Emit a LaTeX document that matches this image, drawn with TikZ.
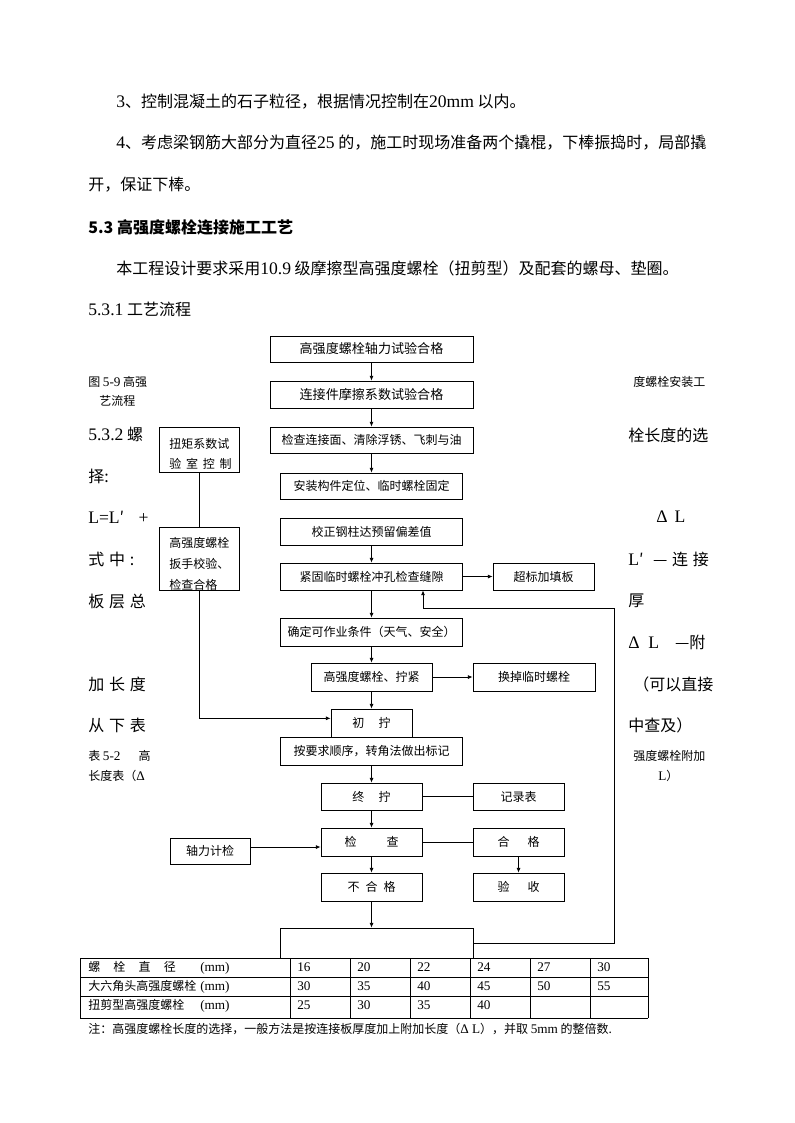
\documentclass[tikz,border=0pt]{standalone}
\usepackage{fontspec}
\setmainfont{Liberation Serif}[Scale=1.1]
\newfontfamily\cjk{Noto Sans CJK SC}
\usetikzlibrary{arrows.meta}
\newcommand\lat[1]{{\rmfamily #1}}
\newcommand\gp{\hspace{0.3em}}

\begin{document}
\begin{tikzpicture}[x=0.75pt, y=-0.75pt, >={Latex[length=3.5pt,width=3pt]},
  box/.style={draw, line width=0.6pt, inner sep=0, font=\cjk\fontsize{9}{11}\selectfont},
  wh/.style 2 args={minimum width=#1*0.75pt, minimum height=#2*0.75pt},
  body/.style={inner sep=0, anchor=west, font=\cjk\fontsize{12}{14}\selectfont},
  note/.style={inner sep=0, anchor=west, font=\cjk\fontsize{9}{11}\selectfont},
  cell/.style={inner sep=0, anchor=base west, font=\cjk\fontsize{9}{11}\selectfont},
  conn/.style={line width=0.6pt}]
\fill[white] (0,0) rectangle (794,1123);
% text above the chart
\node[body] (p3) at (116,102) {\lat{3}、控制混凝土的石子粒径，根据情况控制在\lat{20mm} 以内。};
\node[body] (p4) at (116,143) {\lat{4}、考虑梁钢筋大部分为直径\lat{25} 的，施工时现场准备两个撬棍，下棒振捣时，局部撬};
\node[body] (p4b) at (88,185) {开，保证下棒。};
\node[body, font=\cjk\bfseries\fontsize{12}{14}\selectfont] (h53) at (88,227) {5.3 高强度螺栓连接施工工艺};
\node[body] (p5) at (116,268) {本工程设计要求采用\lat{10.9} 级摩擦型高强度螺栓（扭剪型）及配套的螺母、垫圈。};
\node[body] (h531) at (88,309) {\lat{5.3.1} 工艺流程};
% text left of the chart
\node[note] (l1) at (88,382) {图 \lat{5-9} 高强};
\node[note] (l2) at (99,401) {艺流程};
\node[body] (l3) at (88,434) {\lat{5.3.2} 螺};
\node[body] (l4) at (88,476) {择:};
\node[body] (l5) at (88,517) {\lat{L=L}′\hspace{0.9em}\lat{+}};
\node[body] (l6) at (88,559) {式\gp 中\gp :};
\node[body] (l7) at (88,601) {板\gp 层\gp 总};
\node[body] (l8) at (88,684) {加\gp 长\gp 度};
\node[body] (l9) at (88,725) {从\gp 下\gp 表};
\node[note] (l10) at (88,756) {表 \lat{5-2}\hspace{1.5em}高};
\node[note] (l11) at (88,776) {长度表（\lat{Δ}};
% text right of the chart
\node[note] (r1) at (633,382) {度螺栓安装工};
\node[body] (r2) at (628,435) {栓长度的选};
\node[body] (r3) at (656,517) {\lat{Δ\hspace{0.4em}L}};
\node[body] (r4) at (628,559) {\lat{L}′\hspace{0.6em}—\gp 连\gp 接};
\node[body] (r5) at (628,601) {厚};
\node[body] (r6) at (628,642) {\lat{Δ\hspace{0.5em}L}\hspace{1em}—附};
\node[body] (r7) at (633,684) {（可以直接};
\node[body] (r8) at (628,725) {中查及）};
\node[note] (r9) at (633,756) {强度螺栓附加};
\node[note] (r10) at (658,776) {\lat{L}）};
% flow chart
\node[box, wh={203}{26}, font=\cjk\fontsize{9.8}{11}\selectfont] (a1) at (371.5,349) {高强度螺栓轴力试验合格};
\node[box, wh={203}{27}, font=\cjk\fontsize{9.8}{11}\selectfont] (a2) at (371.5,394.5) {连接件摩擦系数试验合格};
\node[box, wh={203}{26}] (a3) at (371.5,440) {检查连接面、清除浮锈、飞刺与油};
\node[box, wh={182}{26}] (a4) at (371.5,486) {安装构件定位、临时螺栓固定};
\node[box, wh={182}{27}] (a5) at (371.5,531.5) {校正钢柱达预留偏差值};
\node[box, wh={182}{27}] (a6) at (371.5,576.5) {紧固临时螺栓冲孔检查缝隙};
\node[box, wh={101}{27}] (fill) at (543.5,576.5) {超标加填板};
\node[box, wh={182}{28}] (a7) at (371.5,632) {确定可作业条件（天气、安全）};
\node[box, wh={121}{28}] (a8) at (371.5,677) {高强度螺栓、拧紧};
\node[box, wh={122}{28}] (swap) at (534,677) {换掉临时螺栓};
\node[box, wh={81}{28}] (a9) at (371.5,723) {初\hspace{1.2em}拧};
\node[box, wh={182}{28}, fill=white] (a10) at (371.5,751) {按要求顺序，转角法做出标记};
\node[box, wh={101}{27}] (a11) at (371.5,796.5) {终\hspace{1.2em}拧};
\node[box, wh={91}{27}] (rec) at (518.5,796.5) {记录表};
\node[box, wh={101}{28}] (a12) at (371.5,842) {检\hspace{2.5em}查};
\node[box, wh={91}{28}] (ok) at (518.5,842) {合\hspace{1.5em}格};
\node[box, wh={80}{26}] (axial) at (210,851) {轴力计检};
\node[box, wh={101}{28}] (a13) at (371.5,887) {不\hspace{0.5em}合\hspace{0.5em}格};
\node[box, wh={91}{28}] (accept) at (518.5,887) {验\hspace{1.5em}收};
\node[box, wh={193}{30}] (a14) at (376.5,943) {};
\node[box, wh={80}{45}] (torque) at (199,449.5) {};
\node[box, wh={80}{63}] (wrench) at (199,558.5) {};
\begin{scope}
\clip (torque.south west) rectangle (torque.north east);
\node[note, anchor=north west, align=left, font=\cjk\fontsize{9}{15}\selectfont] (torquetxt) at (169,438) {扭矩系数试\\验\hspace{0.4em}室\hspace{0.4em}控\hspace{0.4em}制};
\end{scope}
\begin{scope}
\clip (wrench.south west) rectangle (wrench.north east);
\node[note, anchor=north west, align=left, font=\cjk\fontsize{9}{15.7}\selectfont] (wrenchtxt) at (169,537) {高强度螺栓\\扳手校验、\\检查合格};
\end{scope}
% connectors
\draw[->, conn] (a1) -- (a2);
\draw[->, conn] (a2) -- (a3);
\draw[->, conn] (a3) -- (a4);
\draw[->, conn] (a5) -- (a6);
\draw[->, conn] (a6) -- (fill);
\draw[->, conn] (a6) -- (a7);
\draw[->, conn] (a7) -- (a8);
\draw[->, conn] (a8) -- (swap);
\draw[->, conn] (a8) -- (a9);
\draw[->, conn] (a10) -- (a11);
\draw[conn] (a11) -- (rec);
\draw[->, conn] (a11) -- (a12);
\draw[conn] (a12) -- (ok);
\draw[->, conn] (ok) -- (accept);
\draw[->, conn] ([yshift=3pt]axial.east) -- ([yshift=3pt]axial.east -| a12.west);
\draw[->, conn] (a12) -- (a13);
\draw[->, conn] (a13.south) -- (a13.south |- a14.north);
\draw[conn] (torque) -- (wrench);
\draw[->, conn] (wrench.south) |- ([yshift=3.5pt]a9.west);
\coordinate (fbR) at (614,608);
\coordinate (fbL) at (423,608);
\draw[->, conn] (a14.east) -| (fbR) -- (fbL) -- (fbL |- a6.south);
% table 5-2
\fill[white] (80,958) rectangle (648,1018);
\foreach \y in {958,977,996,1018} \draw[conn] (80,\y) -- (648,\y);
\foreach \x in {80,290,350,410,470,530,590,648} \draw[conn] (\x,958) -- (\x,1018);
\node[cell] (t1) at (88,971) {螺\hspace{1.1em}栓\hspace{1.1em}直\hspace{1.1em}径};
\node[cell] (t2) at (88,990) {大六角头高强度螺栓};
\node[cell] (t3) at (88,1009) {扭剪型高强度螺栓};
\foreach \y [count=\i] in {971,990,1009} \node[cell] (mm\i) at (200,\y) {\lat{(mm)}};
\foreach \v [count=\i] in {16,20,22,24,27,30} \node[cell] (d\i) at (237+60*\i,971) {\lat{\v}};
\foreach \v [count=\i] in {30,35,40,45,50,55} \node[cell] (h\i) at (237+60*\i,990) {\lat{\v}};
\foreach \v [count=\i] in {25,30,35,40} \node[cell] (s\i) at (237+60*\i,1009) {\lat{\v}};
\node[note] (fn) at (88,1029) {注：高强度螺栓长度的选择，一般方法是按连接板厚度加上附加长度（\lat{Δ L}），并取 \lat{5mm} 的整倍数.};
\end{tikzpicture}
\end{document}
